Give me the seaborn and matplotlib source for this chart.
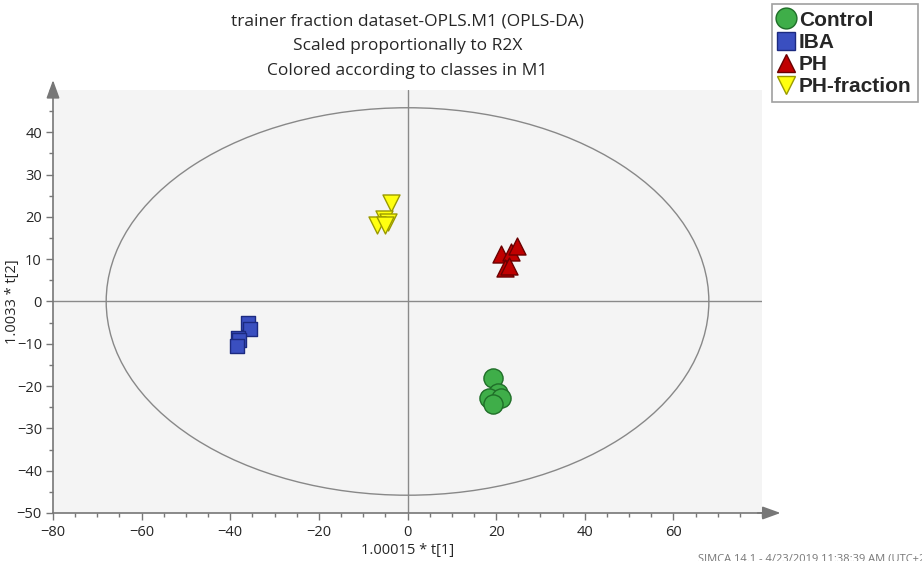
import pandas as pd
import seaborn as sns
import matplotlib.pyplot as plt
from matplotlib.patches import Ellipse
from matplotlib.ticker import MultipleLocator

# scores
control_t1 = [19.4, 20.5, 18.3, 21.0, 19.4]
control_t2 = [-18.0, -21.7, -22.7, -22.7, -24.3]
iba_t1 = [-36.1, -35.6, -38.3, -38.1, -38.5]
iba_t2 = [-5.2, -6.4, -8.7, -9.2, -10.6]
ph_t1 = [21.2, 23.4, 24.6, 21.9, 23.0]
ph_t2 = [11.3, 11.8, 13.2, 7.8, 8.3]
phf_t1 = [-3.8, -5.4, -4.5, -6.8, -5.0]
phf_t2 = [23.2, 19.6, 18.7, 18.0, 18.0]

classes = ['Control', 'IBA', 'PH', 'PH-fraction']
ellipse_axes = (68.0, 45.8)  # Hotelling T2 semi-axes

df = pd.DataFrame({
    't1': control_t1 + iba_t1 + ph_t1 + phf_t1,
    't2': control_t2 + iba_t2 + ph_t2 + phf_t2,
    'cls': ['Control'] * 5 + ['IBA'] * 5 + ['PH'] * 5 + ['PH-fraction'] * 5,
})

colors = {'Control': '#3fae49', 'IBA': '#3a4fc0', 'PH': '#c00000', 'PH-fraction': '#ffff10'}
edges = {'Control': '#1f6e28', 'IBA': '#1c2a80', 'PH': '#6a0000', 'PH-fraction': '#9a9a00'}
markers = {'Control': 'o', 'IBA': 's', 'PH': '^', 'PH-fraction': 'v'}
sizes = {'Control': 190, 'IBA': 110, 'PH': 150, 'PH-fraction': 150}

sns.set_style('white')
plt.rcParams['font.family'] = ['Open Sans', 'DejaVu Sans']

fig = plt.figure(figsize=(9.22, 5.61), dpi=100)
ax = fig.add_axes([0.0575, 0.0856, 0.769, 0.754])
ax.set_facecolor('#f4f4f4')

ax.add_patch(Ellipse((0, 0), 2 * ellipse_axes[0], 2 * ellipse_axes[1],
                     fill=False, edgecolor='#888888', lw=1.0, zorder=2))
ax.axhline(0, color='#8a8a8a', lw=1.0, zorder=1)
ax.axvline(0, color='#8a8a8a', lw=1.0, zorder=1)

for c in classes:
    sub = df[df['cls'] == c]
    sns.scatterplot(data=sub, x='t1', y='t2', ax=ax, marker=markers[c], s=sizes[c],
                    color=colors[c], edgecolor=edges[c], linewidth=1.0,
                    label=c, zorder=3, legend=False)

ax.set_xlim(-80, 80)
ax.set_ylim(-50, 50)
ax.xaxis.set_minor_locator(MultipleLocator(5))
ax.yaxis.set_minor_locator(MultipleLocator(5))
ax.set_xticks([-80, -60, -40, -20, 0, 20, 40, 60])
ax.set_yticks(range(-50, 41, 10))
ax.tick_params(which='major', direction='out', length=5, color='#777777', labelsize=10.5, width=1)
ax.tick_params(which='minor', direction='out', length=3, color='#777777', width=1)
ax.tick_params(axis='both', bottom=True, left=True, which='both')
ax.tick_params(axis='x', pad=4)
ax.tick_params(axis='y', pad=3)

for side in ['top', 'right']:
    ax.spines[side].set_visible(False)
for side in ['left', 'bottom']:
    ax.spines[side].set_color('#777777')
    ax.spines[side].set_linewidth(1.2)

# axis arrows
ax.annotate('', xy=(1.03, 0), xytext=(0.99, 0), xycoords='axes fraction',
            arrowprops=dict(arrowstyle='-|>,head_length=1.1,head_width=0.4', color='#777777', lw=1.2),
            annotation_clip=False)
ax.annotate('', xy=(0, 1.03), xytext=(0, 0.99), xycoords='axes fraction',
            arrowprops=dict(arrowstyle='-|>,head_length=1.1,head_width=0.4', color='#777777', lw=1.2),
            annotation_clip=False)

ax.set_xlabel('1.00015 * t[1]', fontsize=10.5, va='center')
ax.set_ylabel('1.0033 * t[2]', fontsize=10.5, va='center')
ax.xaxis.set_label_coords(0.5, -0.088)
ax.yaxis.set_label_coords(-0.057, 0.5)

fig.text(0.442, 0.962, 'trainer fraction dataset-OPLS.M1 (OPLS-DA)', ha='center', va='center', fontsize=12.5)
fig.text(0.442, 0.918, 'Scaled proportionally to R2X', ha='center', va='center', fontsize=12.5)
fig.text(0.442, 0.874, 'Colored according to classes in M1', ha='center', va='center', fontsize=12.5)

handles = [plt.Line2D([], [], ls='none', marker=markers[c], markersize=15 if c == 'Control' else 13,
                      markerfacecolor=colors[c], markeredgecolor=edges[c]) for c in classes]
leg = fig.legend(handles, classes, loc='upper left', bbox_to_anchor=(0.837, 0.992),
                 prop={'family': 'Liberation Sans', 'weight': 'bold', 'size': 15},
                 frameon=True, fancybox=False, edgecolor='#888888', handlelength=0.8,
                 handletextpad=0.2, borderpad=0.3, labelspacing=0.15, borderaxespad=0)
leg.get_frame().set_linewidth(1.2)

fig.text(0.757, 0.003, 'SIMCA 14.1 - 4/23/2019 11:38:39 AM (UTC+2)', fontsize=8, color='#777777',
         ha='left', va='center')

fig.savefig('out.png', dpi=100)
